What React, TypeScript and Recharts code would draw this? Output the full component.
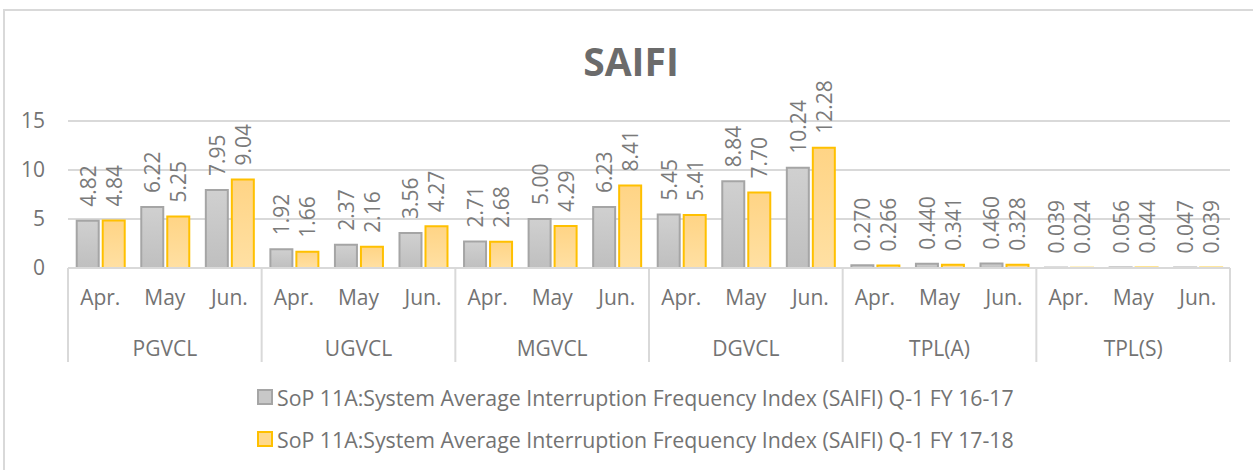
import React from 'react'
import { BarChart, Bar, XAxis, YAxis, CartesianGrid, Legend, LabelList } from 'recharts'

const groups = ['PGVCL', 'UGVCL', 'MGVCL', 'DGVCL', 'TPL(A)', 'TPL(S)']
const months = ['Apr.', 'May', 'Jun.']
const fy1617 = [4.82, 6.22, 7.95, 1.92, 2.37, 3.56, 2.71, 5.0, 6.23, 5.45, 8.84, 10.24, 0.27, 0.44, 0.46, 0.039, 0.056, 0.047]
const fy1718 = [4.84, 5.25, 9.04, 1.66, 2.16, 4.27, 2.68, 4.29, 8.41, 5.41, 7.7, 12.28, 0.266, 0.341, 0.328, 0.024, 0.044, 0.039]
const yTicks = [0, 5, 10, 15]
const seriesNames = [
  'SoP 11A:System Average Interruption Frequency Index (SAIFI) Q-1 FY 16-17',
  'SoP 11A:System Average Interruption Frequency Index (SAIFI) Q-1 FY 17-18',
]

const data = fy1617.map((v, i) => ({
  group: groups[Math.floor(i / months.length)],
  month: months[i % months.length],
  a: v,
  b: fy1718[i],
}))

const TEXT = '#737373'
const GRID = '#d9d9d9'
const MONTH_H = 50
const GROUP_H = 50

// icon colours for the legend (bars use gradients)
const swatch: Record<string, { fill: string; stroke: string }> = {
  a: { fill: '#c8c8c8', stroke: '#a5a5a5' },
  b: { fill: '#ffd98c', stroke: '#ffc000' },
}

const fmt = (v: number) => (v < 1 ? v.toFixed(3) : v.toFixed(2))

const RotatedLabel = (props: any) => {
  const { x, y, width, value } = props
  const cx = Number(x) + Number(width) / 2
  const ty = Number(y) - 14
  return (
    <text
      x={cx}
      y={ty}
      transform={`rotate(-90 ${cx} ${ty})`}
      textAnchor="start"
      dominantBaseline="central"
      fill="#7a7a7a"
      fontSize={21}
    >
      {fmt(Number(value))}
    </text>
  )
}

const GroupTick = (props: any) => {
  const { x, y, payload, index } = props
  const half = payload.offset ?? 0
  const per = months.length
  return (
    <g>
      {index % per === 0 && (
        <line x1={x - half} x2={x - half} y1={y - MONTH_H} y2={y + 44} stroke={GRID} strokeWidth={2} />
      )}
      {index === data.length - 1 && (
        <line x1={x + half} x2={x + half} y1={y - MONTH_H} y2={y + 44} stroke={GRID} strokeWidth={2} />
      )}
      {index % per === 1 && (
        <text x={x} y={y + 38} textAnchor="middle" fill={TEXT} fontSize={21}>
          {payload.value}
        </text>
      )}
    </g>
  )
}

const LegendContent = (props: any) => (
  <div style={{ height: 92, paddingTop: 8, paddingLeft: 257, boxSizing: 'border-box', fontSize: 21.3, color: TEXT }}>
    {(props.payload || []).map((entry: any) => (
      <div key={entry.dataKey} style={{ display: 'flex', alignItems: 'center', height: 42, whiteSpace: 'nowrap' }}>
        <span
          style={{
            width: 12,
            height: 12,
            background: swatch[entry.dataKey].fill,
            border: `2px solid ${swatch[entry.dataKey].stroke}`,
            marginRight: 4,
          }}
        />
        <span>{entry.value}</span>
      </div>
    ))}
  </div>
)

export default function App() {
  return (
    <div style={{ position: 'absolute', left: 0, top: 0, width: 1253, height: 470, fontFamily: '"Open Sans", sans-serif', background: '#fff', overflow: 'hidden' }}>
      <div style={{ position: 'absolute', left: 3, top: 9, width: 1300, height: 500, borderTop: `2px solid ${GRID}`, borderLeft: `2px solid ${GRID}` }} />
      <div style={{ position: 'absolute', left: 0, top: 34, width: 1262, textAlign: 'center', fontSize: 39, fontWeight: 700, color: '#6b6b6b' }}>
        SAIFI
      </div>
      <BarChart
        width={1253}
        height={470}
        data={data}
        margin={{ top: 121, right: 23, left: 0, bottom: 10 }}
        barCategoryGap="13.5%"
        barGap={4}
        style={{ position: 'absolute', left: 0, top: 0 }}
      >
        <defs>
          <linearGradient id="gGray" x1="0" y1="0" x2="0" y2="1">
            <stop offset="0%" stopColor="#d0d0d0" />
            <stop offset="100%" stopColor="#bfbfbf" />
          </linearGradient>
          <linearGradient id="gGold" x1="0" y1="0" x2="0" y2="1">
            <stop offset="0%" stopColor="#ffd485" />
            <stop offset="100%" stopColor="#ffe0a3" />
          </linearGradient>
        </defs>
        <CartesianGrid vertical={false} stroke={GRID} strokeWidth={2} />
        <XAxis
          dataKey="month"
          interval={0}
          height={MONTH_H}
          tickLine={false}
          tickSize={0}
          tickMargin={22}
          axisLine={{ stroke: GRID, strokeWidth: 2 }}
          tick={{ fill: TEXT, fontSize: 21 }}
        />
        <XAxis
          xAxisId="g"
          dataKey="group"
          interval={0}
          height={GROUP_H}
          tickLine={false}
          tickSize={0}
          tickMargin={0}
          axisLine={false}
          tick={<GroupTick />}
        />
        <YAxis
          width={68}
          domain={[0, 15]}
          ticks={yTicks}
          tickLine={false}
          tickSize={0}
          tickMargin={23}
          axisLine={false}
          tick={{ fill: TEXT, fontSize: 21 }}
        />
        <Legend verticalAlign="bottom" height={92} content={<LegendContent />} />
        <Bar dataKey="a" name={seriesNames[0]} fill="url(#gGray)" stroke="#a5a5a5" strokeWidth={2} isAnimationActive={false}>
          <LabelList dataKey="a" content={<RotatedLabel />} />
        </Bar>
        <Bar dataKey="b" name={seriesNames[1]} fill="url(#gGold)" stroke="#ffc000" strokeWidth={2} isAnimationActive={false}>
          <LabelList dataKey="b" content={<RotatedLabel />} />
        </Bar>
      </BarChart>
    </div>
  )
}
